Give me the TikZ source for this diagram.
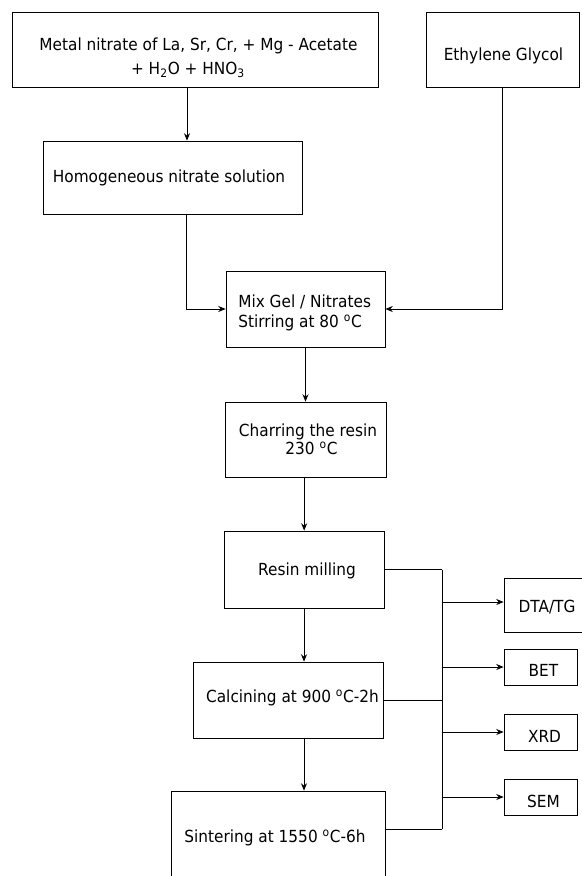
\documentclass[tikz,border=0pt]{standalone}
\usepackage{fontspec}
\setmainfont{DejaVu Sans}[FakeStretch=0.92]
\usetikzlibrary{arrows.meta}
\begin{document}
\begin{tikzpicture}[x=0.75pt,y=-0.75pt,
  box/.style={draw, line width=0.6pt, inner sep=0pt},
  lbl/.style={inner sep=0pt, anchor=base, font=\fontsize{12.5}{15}\selectfont},
  arr/.style={line width=0.6pt, -{Stealth[length=5.5pt,width=4.5pt]}},
  ln/.style={line width=0.6pt}]
\useasboundingbox (0,0) rectangle (582,876);
% boxes
\node[box, minimum width=366*0.75pt, minimum height=75*0.75pt] (n1) at (195,49.5) {};
\node[box, minimum width=153*0.75pt, minimum height=75*0.75pt] (eg) at (502.5,49.5) {};
\node[box, minimum width=259*0.75pt, minimum height=73*0.75pt] (n2) at (172.5,177.5) {};
\node[box, minimum width=159*0.75pt, minimum height=76*0.75pt] (n3) at (305.5,309) {};
\node[box, minimum width=161*0.75pt, minimum height=75*0.75pt] (n4) at (305.5,439.5) {};
\node[box, minimum width=160*0.75pt, minimum height=77*0.75pt] (n5) at (304,569.5) {};
\node[box, minimum width=190*0.75pt, minimum height=76*0.75pt] (n6) at (288,700) {};
\node[box, minimum width=214*0.75pt, minimum height=90*0.75pt] (n7) at (278,836) {};
\node[box, minimum width=80*0.75pt, minimum height=54*0.75pt] (dta) at (544,605) {};
\node[box, minimum width=73*0.75pt, minimum height=36*0.75pt] (bet) at (540.5,667) {};
\node[box, minimum width=73*0.75pt, minimum height=36*0.75pt] (xrd) at (540.5,732) {};
\node[box, minimum width=73*0.75pt, minimum height=36*0.75pt] (sem) at (540.5,797) {};
% texts
\node[lbl] (t1a) at (198.5,50) {Metal nitrate of La, Sr, Cr, + Mg - Acetate};
\node[lbl] (t1b) at (188,74) {+ H\textsubscript{2}O + HNO\textsubscript{3}};
\node[lbl] (teg) at (503.5,60) {Ethylene Glycol};
\node[lbl] (t2) at (169,182.7) {Homogeneous nitrate solution};
\node[lbl, anchor=base west] (t3a) at (238,307.3) {Mix Gel / Nitrates};
\node[lbl, anchor=base west] (t3b) at (238,327.7) {Stirring at 80 \textsuperscript{o}C};
\node[lbl] (t4a) at (308,436) {Charring the resin};
\node[lbl] (t4b) at (311.5,454) {230 \textsuperscript{o}C};
\node[lbl] (t5) at (307,575) {Resin milling};
\node[lbl] (t6) at (292.5,702.7) {Calcining at 900 \textsuperscript{o}C-2h};
\node[lbl] (t7) at (275,842.3) {Sintering at 1550 \textsuperscript{o}C-6h};
\node[lbl] (tdta) at (547,612.7) {DTA/TG};
\node[lbl] (tbet) at (543.5,676.7) {BET};
\node[lbl] (txrd) at (544.5,742.3) {XRD};
\node[lbl] (tsem) at (543.5,807.3) {SEM};
% connectors
\draw[arr] ([xshift=-6pt]n1.south) coordinate (c1) -- (c1 |- n2.north);
\draw[arr] ([xshift=10.125pt]n2.south) |- (n3.west);
\draw[arr] (eg.south) |- (n3.east);
\draw[arr] (n3.south) -- (n4.north);
\draw[arr] ([xshift=-1pt]n4.south) coordinate (c4) -- (c4 |- n5.north);
\draw[arr] (n5.south) -- (n6.north -| n5.south);
\draw[arr] (n6.south -| n5.south) -- (n7.north -| n5.south);
\draw[ln] (n5.east) -- ++(58,0) coordinate (bt);
\draw[ln] (n6.east) -- (n6.east -| bt);
\draw[ln] ([yshift=5.25pt]n7.east) coordinate (c7) -- (c7 -| bt) coordinate (bb);
\draw[ln] (bt) -- (bb);
\draw[arr] ([yshift=2.25pt]dta.west -| bt) coordinate (d1) -- (d1 -| dta.west);
\draw[arr] (bet.west -| bt) -- (bet.west);
\draw[arr] (xrd.west -| bt) -- (xrd.west);
\draw[arr] (sem.west -| bt) -- (sem.west);
\end{tikzpicture}
\end{document}
